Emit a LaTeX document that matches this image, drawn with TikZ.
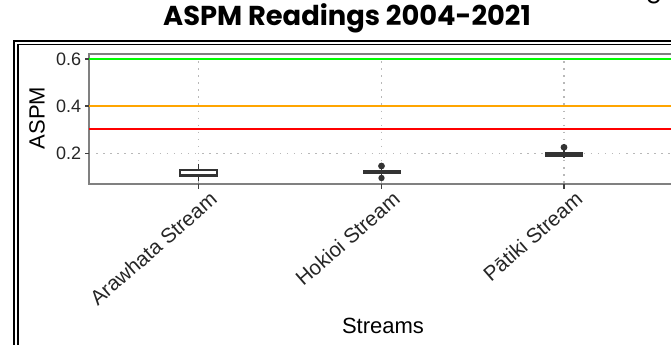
\documentclass[tikz,border=0pt]{standalone}
\usepackage{fontspec}
\setmainfont{Liberation Sans}
\newfontfamily\titlefont{Poppins}
\definecolor{limitgreen}{RGB}{0,255,0}
\definecolor{limitorange}{RGB}{255,165,0}
\definecolor{limitred}{RGB}{255,0,0}
\begin{document}
\begin{tikzpicture}[x=0.75pt,y=-0.75pt,
  ticklab/.style={font=\fontsize{13.5}{14}\selectfont, text=black!85, inner sep=0pt},
  xlab/.style={font=\fontsize{15.5}{16}\selectfont, text=black!85, inner sep=0pt, rotate=41, anchor=north east},
  axtitle/.style={font=\fontsize{16.5}{18}\selectfont, inner sep=0pt},
  gridline/.style={draw=black!28, line width=0.9pt, dash pattern=on 1.1pt off 4.2pt},
  panelline/.style={draw=black!50, line width=0.9pt},
  tickmark/.style={draw=black!75, line width=0.9pt},
  boxline/.style={draw=black!80, line width=1.3pt},
  outlier/.style={fill=black!80, draw=none},
  reflevel/.style={draw=none}]
\useasboundingbox (0,0) rectangle (671,345);

% double frame round the figure
\draw[line width=1.6pt] (14,41) rectangle (700,380);
\draw[line width=1.2pt] (17.8,44.6) rectangle (696,376);

% title and a stray descender above it
\node[font=\titlefont\bfseries\fontsize{20.5}{22}\selectfont, inner sep=0pt] (title) at (347,18) {ASPM Readings 2004-2021};
\node[font=\titlefont\fontsize{18}{20}\selectfont, inner sep=0pt, anchor=south] (gfrag) at (654,4.5) {g};

% panel grid
\foreach \gx in {198.5,381.5,564} \draw[gridline] (\gx,54) -- (\gx,184);
\foreach \gy in {59,106,153.3} \draw[gridline] (89,\gy) -- (680,\gy);

% panel border
\draw[panelline] (680,54) -- (89,54) -- (89,184) -- (680,184);

% threshold bands
\fill[reflevel, fill=limitgreen] (89,58) rectangle (680,60);
\fill[reflevel, fill=limitorange] (89,105) rectangle (680,107);
\fill[reflevel, fill=limitred] (89,128.5) rectangle (680,130.5);

% y axis
\foreach \gy/\lab/\nm in {59/0.6/ysix,106/0.4/yfour,153.3/0.2/ytwo}{
  \draw[tickmark] (85,\gy) -- (89,\gy);
  \node[ticklab, anchor=east] (\nm) at (81.5,\gy) {\lab};
}
\node[axtitle, rotate=90] (ytitle) at (37,118) {ASPM};

% x axis ticks and labels
\foreach \gx/\lab/\nm in {198.5/Arawhata Stream/xa,381.5/Hokioi Stream/xh,564/Pātiki Stream/xp}{
  \draw[tickmark] (\gx,184) -- (\gx,189);
  \node[xlab] (\nm) at (\gx+10,190) {\lab};
}
\node[axtitle] (xtitle) at (383,326) {Streams};

% Arawhata box
\draw[boxline] (198.5,164) -- (198.5,170);
\draw[boxline] (198.5,176) -- (198.5,181);
\draw[boxline, fill=white] (180,170) rectangle (217,176);
\draw[boxline] (180,175) -- (217,175);

% Hokioi box
\draw[boxline] (381.5,166) -- (381.5,178);
\fill[black!80] (362.5,170) rectangle (400.5,174.5);
\fill[outlier] (381.5,166) circle (3.4);
\fill[outlier] (381.5,178) circle (3.2);

% Patiki box
\draw[boxline] (564,147.5) -- (564,158);
\fill[black!80] (545,152.5) rectangle (583,157);
\fill[outlier] (564,147.3) circle (3.4);
\end{tikzpicture}
\end{document}
